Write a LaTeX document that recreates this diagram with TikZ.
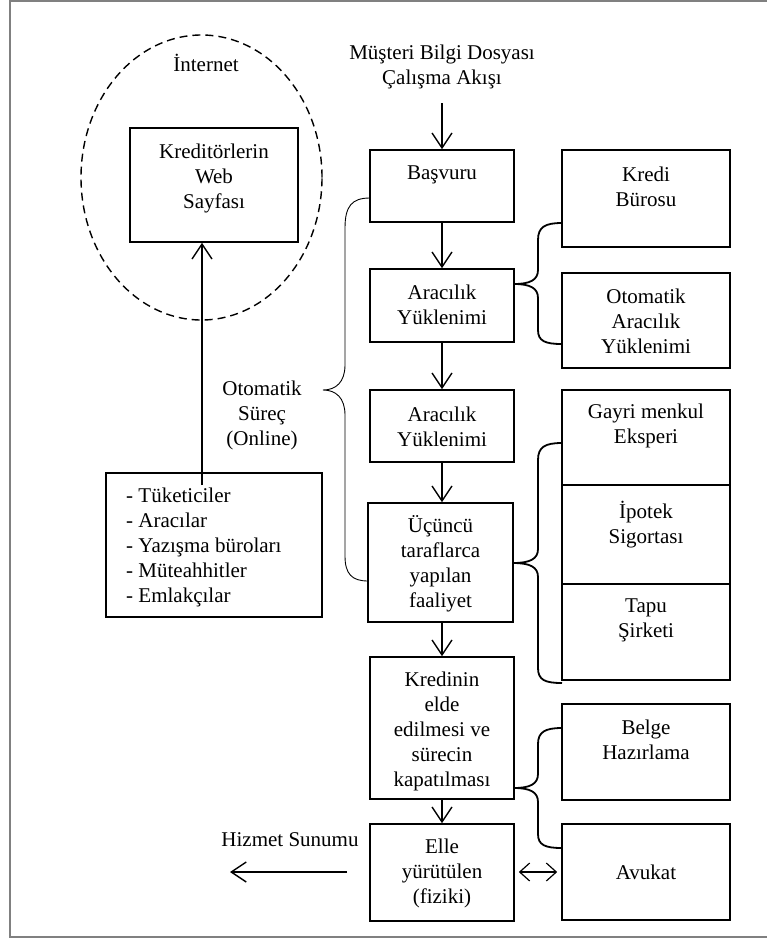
\documentclass[tikz,border=0pt]{standalone}
\usepackage{fontspec}
\setmainfont{Liberation Serif}
\usetikzlibrary{arrows.meta,calc,shapes.geometric}
\definecolor{framegray}{RGB}{128,128,128}
\begin{document}
\begin{tikzpicture}[x=1pt,y=-1pt,
  every node/.style={font=\fontsize{21}{25}\selectfont, inner sep=0pt},
  bx/.style 2 args={draw, line width=1.6pt, minimum width=#1, minimum height=#2},
  txt/.style={align=center},
  arr/.style={line width=1.4pt, -{Straight Barb[length=15pt,width=20pt]}},
  darr/.style={line width=1.2pt, {Straight Barb[length=10pt,width=18pt]}-{Straight Barb[length=10pt,width=18pt]}},
  rbr/.style={line width=1.8pt},
  lbr/.style={line width=0.9pt}]
\useasboundingbox (0,0) rectangle (767,938);
% frame
\draw[framegray, line width=2pt] (767,1) -- (10,1) -- (10,937) -- (767,937);

% internet
\node[draw, dash pattern=on 8pt off 5pt, line width=1.4pt, ellipse, minimum width=241pt, minimum height=285pt] (net) at (201.5,177.5) {};
\node (tnet) at (206,63) {İnternet};
\node[bx={168pt}{114pt}] (web) at (214,185) {};
\node[txt] (tweb) at (214,178) {Kreditörlerin\\Web\\Sayfası};

% list box
\node[bx={216pt}{144pt}] (list) at (214,545) {};
\node[align=left, anchor=west] (tlist) at (126,547) {- Tüketiciler\\- Aracılar\\- Yazışma büroları\\- Müteahhitler\\- Emlakçılar};
\coordinate (ls) at (202,485);
\draw[arr] (ls) -- (ls |- web.south);

% otomatik label
\node[txt] (oto) at (262,415) {Otomatik\\Süreç\\(Online)};

% header
\node[txt] (head) at (442,67) {Müşteri Bilgi Dosyası\\Çalışma Akışı};
\coordinate (hs) at (442,103);

% main column
\node[bx={144pt}{72pt}] (bas) at (442,186) {};
\node (tbas) at (442,175) {Başvuru};
\node[bx={144pt}{73pt}] (ar1) at (442,305.5) {};
\node[txt] (tar1) at (442,305) {Aracılık\\Yüklenimi};
\node[bx={144pt}{72pt}] (ar2) at (442,426) {};
\node[txt] (tar2) at (442,427) {Aracılık\\Yüklenimi};
\node[bx={145pt}{119pt}] (uc) at (440.5,562.5) {};
\node[txt] (tuc) at (440.5,564) {Üçüncü\\taraflarca\\yapılan\\faaliyet};
\node[bx={144pt}{142pt}] (kr) at (442,728) {};
\node[txt] (tkr) at (442,731) {Kredinin\\elde\\edilmesi ve\\sürecin\\kapatılması};
\node[bx={144pt}{97pt}] (el) at (442,872.5) {};
\node[txt] (tel) at (442,873) {Elle\\yürütülen\\(fiziki)};

\draw[arr] (hs) -- (bas.north);
\draw[arr] (bas.south) -- (ar1.north);
\draw[arr] (ar1.south) -- (ar2.north);
\draw[arr] (ar2.south) -- (uc.north -| ar2.south);
\draw[arr] (uc.south -| kr.north) -- (kr.north);
\draw[arr] (kr.south) -- (el.north);

% right column
\node[bx={168pt}{97pt}] (kb) at (646,198.5) {};
\node[txt] (tkb) at (646,187) {Kredi\\Bürosu};
\node[bx={168pt}{95pt}] (oay) at (646,320.5) {};
\node[txt] (toay) at (646,321) {Otomatik\\Aracılık\\Yüklenimi};
\node[bx={168pt}{95pt}] (gm) at (646,437.5) {};
\node[txt] (tgm) at (646,425.5) {Gayri menkul\\Eksperi};
\node[bx={168pt}{99pt}] (ip) at (646,534.5) {};
\node[txt] (tip) at (646,524.5) {İpotek\\Sigortası};
\node[bx={168pt}{96pt}] (ta) at (646,632) {};
\node[txt] (tta) at (646,620.5) {Tapu\\Şirketi};
\node[bx={168pt}{96pt}] (bh) at (646,752) {};
\node[txt] (tbh) at (646,740) {Belge\\Hazırlama};
\node[bx={168pt}{96pt}] (av) at (646,872) {};
\node (tav) at (646,872) {Avukat};

% left brace
\coordinate (lb1) at (370,198);
\coordinate (lbt) at (323,390);
\coordinate (lb2) at (368,581);
\draw[lbr] (lb1) .. controls (352,198) and (345,206) .. (345,228) -- (345,365)
  .. controls (345,382) and (336,390) .. (lbt)
  .. controls (336,390) and (345,398) .. (345,415) -- (345,556)
  .. controls (345,574) and (352,581) .. (lb2);

% right braces
\coordinate (b1t) at (514,284);
\coordinate (b1a) at (562,223);
\coordinate (b1b) at (562,344);
\draw[rbr] (b1a) .. controls (545,223) and (538,227) .. (538,240) -- (538,270)
  .. controls (538,280) and (530,284) .. (b1t)
  .. controls (530,284) and (538,288) .. (538,298) -- (538,330)
  .. controls (538,341) and (545,344) .. (b1b);

\coordinate (b2t) at (513,563);
\coordinate (b2a) at (562,443);
\coordinate (b2b) at (562,683);
\draw[rbr] (b2a) .. controls (545,443) and (538,447) .. (538,460) -- (538,549)
  .. controls (538,559) and (530,563) .. (b2t)
  .. controls (530,563) and (538,567) .. (538,577) -- (538,668)
  .. controls (538,680) and (545,683) .. (b2b);

\coordinate (b3t) at (514,788);
\coordinate (b3a) at (562,728);
\coordinate (b3b) at (562,848);
\draw[rbr] (b3a) .. controls (545,728) and (538,732) .. (538,744) -- (538,774)
  .. controls (538,784) and (530,788) .. (b3t)
  .. controls (530,788) and (538,792) .. (538,802) -- (538,834)
  .. controls (538,845) and (545,848) .. (b3b);

% bottom
\node (hiz) at (290,840) {Hizmet Sunumu};
\coordinate (ha) at (347,872);
\coordinate (hb) at (230,872);
\draw[arr] (ha) -- (hb);
\draw[darr] ([xshift=4pt]el.east |- av.west) -- ([xshift=-4pt]av.west);
\end{tikzpicture}
\end{document}
